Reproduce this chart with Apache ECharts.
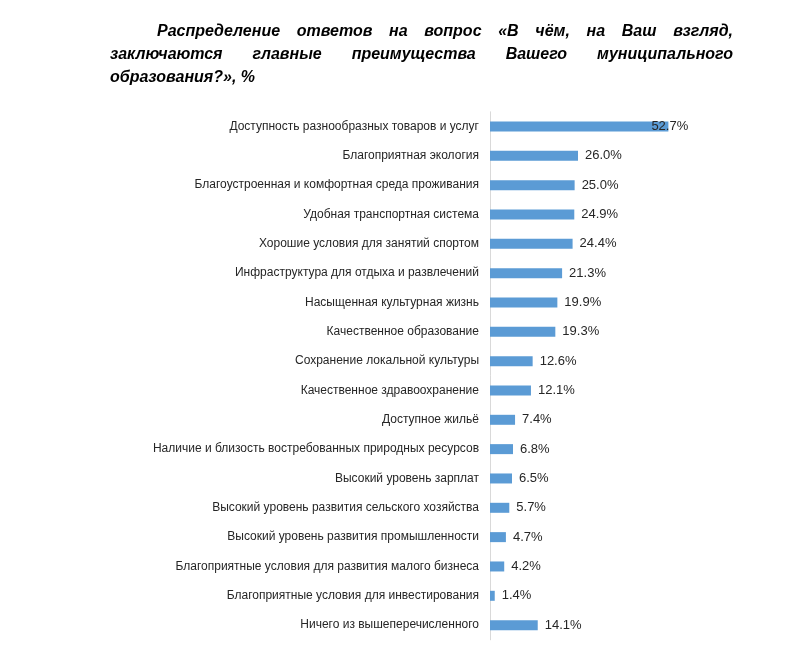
<!DOCTYPE html>
<html><head><meta charset="utf-8">
<script src="https://cdn.jsdelivr.net/npm/echarts@6/dist/echarts.min.js"></script>
<style>html,body{margin:0;padding:0;background:#fff}#c{width:791px;height:655px}</style>
</head><body><div id="c"></div>
<script>
var categories = [
 'Доступность разнообразных товаров и услуг',
 'Благоприятная экология',
 'Благоустроенная и комфортная среда проживания',
 'Удобная транспортная система',
 'Хорошие условия для занятий спортом',
 'Инфраструктура для отдыха и развлечений',
 'Насыщенная культурная жизнь',
 'Качественное образование',
 'Сохранение локальной культуры',
 'Качественное здравоохранение',
 'Доступное жильё',
 'Наличие и близость востребованных природных ресурсов',
 'Высокий уровень зарплат',
 'Высокий уровень развития сельского хозяйства',
 'Высокий уровень развития промышленности',
 'Благоприятные условия для развития малого бизнеса',
 'Благоприятные условия для инвестирования',
 'Ничего из вышеперечисленного'
];
var values = [52.7, 26.0, 25.0, 24.9, 24.4, 21.3, 19.9, 19.3, 12.6, 12.1, 7.4, 6.8, 6.5, 5.7, 4.7, 4.2, 1.4, 14.1];
var titleLines = [
 'Распределение ответов на вопрос «В чём, на Ваш взгляд,',
 'заключаются главные преимущества Вашего муниципального',
 'образования?», %'
];

var titleFont = 'italic bold 16px "Liberation Sans", Arial, sans-serif';
var cv = document.createElement('canvas').getContext('2d');
cv.font = titleFont;
function tw(s){ return cv.measureText(s).width; }

var graphics = [];
var lineStarts = [157, 110, 110];
var lineRight = 733;
var lineY = [33, 56, 79];
titleLines.forEach(function(line, i){
  var words = line.split(' ');
  var justify = i < titleLines.length - 1;
  if (!justify) {
    graphics.push({type:'text', left: lineStarts[i], top: lineY[i]-9, style:{text: line, font: titleFont, fill:'#000'}});
    return;
  }
  var total = 0; words.forEach(function(w){ total += tw(w); });
  var gap = (lineRight - lineStarts[i] - total) / (words.length - 1);
  var x = lineStarts[i];
  words.forEach(function(w){
    graphics.push({type:'text', left: x, top: lineY[i]-9, style:{text: w, font: titleFont, fill:'#000'}});
    x += tw(w) + gap;
  });
});

var chart = echarts.init(document.getElementById('c'), null, {renderer:'canvas'});
chart.setOption({
  animation: false,
  backgroundColor: '#fff',
  graphic: graphics,
  grid: {left: 490, width: 203.1, top: 111.8, height: 528},
  xAxis: {type:'value', min:0, max:60, show:false},
  yAxis: {
    type:'category', data: categories, inverse:true,
    axisLine:{show:true, lineStyle:{color:'#d9d9d9', width:1}},
    axisTick:{show:false},
    axisLabel:{color:'#262626', fontSize:12, fontFamily:'"Liberation Sans", Arial, sans-serif', margin:11}
  },
  series: [{
    type:'bar', barWidth:10,
    itemStyle:{color:'#5B9BD5'},
    data: values.map(function(v, i){
      var d = {value: v};
      if (i === 0) d.label = {offset:[-24, 0]};
      return d;
    }),
    label:{show:true, position:'right', distance:7, color:'#262626', fontSize:13,
      fontFamily:'"Liberation Sans", Arial, sans-serif',
      formatter:function(p){ return p.value.toFixed(1) + '%'; }}
  }]
});
</script></body></html>
